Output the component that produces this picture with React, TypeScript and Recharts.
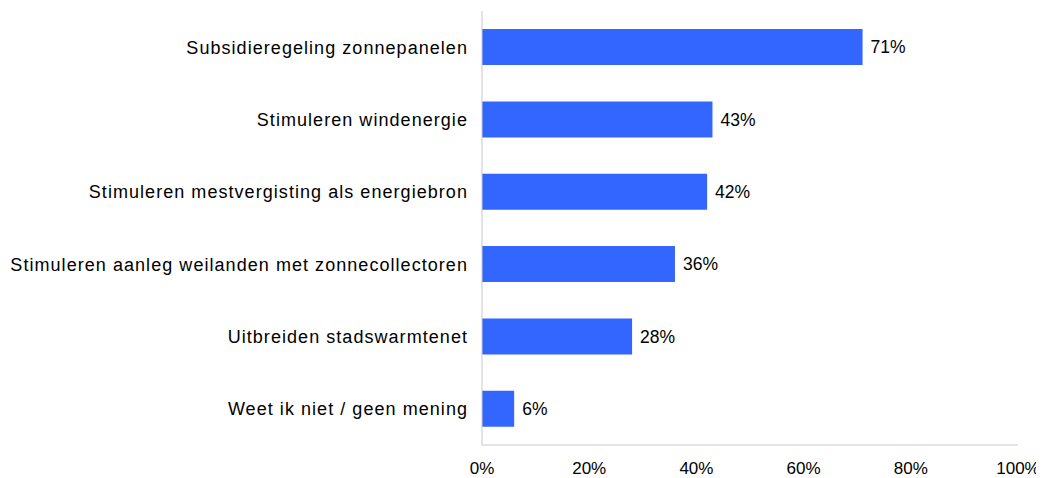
import { BarChart, Bar, XAxis, YAxis, LabelList } from 'recharts';

const categories = [
  'Subsidieregeling zonnepanelen',
  'Stimuleren windenergie',
  'Stimuleren mestvergisting als energiebron',
  'Stimuleren aanleg weilanden met zonnecollectoren',
  'Uitbreiden stadswarmtenet',
  'Weet ik niet / geen mening',
];
const shares = [71, 43, 42, 36, 28, 6];
const xTicks = [0, 20, 40, 60, 80, 100];

const data = categories.map((name, i) => ({ name, value: shares[i] }));

const FONT = 'Liberation Sans, Arial, sans-serif';

export default function App() {
  return (
    <BarChart
      width={1036}
      height={470}
      data={data}
      layout="vertical"
      margin={{ top: 3, right: 26, bottom: 0, left: 0 }}
      barCategoryGap="25%"
    >
      <XAxis
        type="number"
        domain={[0, 100]}
        ticks={xTicks}
        tickFormatter={(v: number) => `${v}%`}
        axisLine={{ stroke: '#c8c8c8' }}
        tickLine={false}
        tickMargin={11}
        height={33}
        tick={{ fill: '#000', fontSize: 17, fontFamily: FONT }}
      />
      <YAxis
        type="category"
        dataKey="name"
        width={474}
        axisLine={{ stroke: '#c8c8c8' }}
        tickLine={false}
        tickMargin={8}
        interval={0}
        tick={{ fill: '#000', fontSize: 18, fontFamily: FONT, letterSpacing: 1.05 }}
      />
      <Bar dataKey="value" fill="#3366ff" isAnimationActive={false}>
        <LabelList
          dataKey="value"
          position="right"
          offset={8}
          formatter={(v: number) => `${v}%`}
          style={{ fill: '#000', fontSize: 17.5, fontFamily: FONT }}
        />
      </Bar>
    </BarChart>
  );
}
